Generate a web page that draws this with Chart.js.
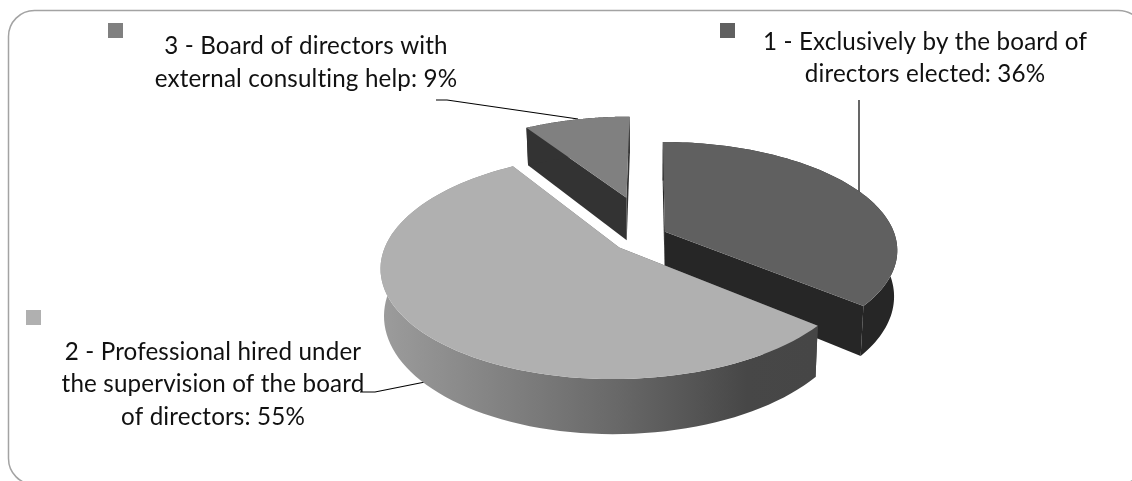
<!DOCTYPE html>
<html>
<head>
<meta charset="utf-8">
<title>Pie chart</title>
<script src="https://cdn.jsdelivr.net/npm/chart.js@4"></script>
<style>
    html, body { margin: 0; padding: 0; background: #fff; }
    canvas { display: block; }
</style>
</head>
<body>
<canvas id="pieChart" width="1132" height="481"></canvas>
<script>
const categories = [
    ['1 - Exclusively by the board of', 'directors elected'],
    ['2 - Professional hired under', 'the supervision of the board', 'of directors'],
    ['3 - Board of directors with', 'external consulting help']
];
const shares = [36, 55, 9];
const topColors = ['#606060', '#b0b0b0', '#808080'];
const sideColors = ['#262626', null, '#333333'];

// how far each slice is pulled out, as a share of the radius
const explode = [0.072, 0.175, 0.39];

// perspective of the disc: unit disc coordinates to page pixels
const view = { x0: 650, y0: 235, sx: 230, sy: 105.5, p: 0.164, depth: 45, squeeze: 0.987 };

const BASE_RADIUS = 100;

const annotations = [
    { swatch: [720, 23], center: 925, baselines: [50, 82], leader: [[859, 100], [859, 195]] },
    { swatch: [26, 310], center: 213, baselines: [360, 392, 425], leader: [[360, 392], [375, 392], [430, 381]] },
    { swatch: [108, 23], center: 306, baselines: [54, 87], leader: [[436, 100], [447, 100], [578, 119]] }
];

function project(x, y, below) {
    const w = 1 - view.p * y;
    let px = view.x0 + view.sx * x / w;
    let py = view.y0 + view.sy * y / w;
    if (below) {
        px = view.x0 + (px - view.x0) * view.squeeze;
        py += view.depth / w;
    }
    return [px, py];
}

function tracePath(ctx, points) {
    ctx.beginPath();
    points.forEach((p, i) => (i ? ctx.lineTo(p[0], p[1]) : ctx.moveTo(p[0], p[1])));
    ctx.closePath();
}

// Slice outline in unit disc coordinates, from the arc element's own angles
function sliceGeometry(arc) {
    const { startAngle, endAngle } = arc.getProps(['startAngle', 'endAngle'], true);
    const mid = (startAngle + endAngle) / 2;
    const shift = arc.options.offset / BASE_RADIUS;
    const ox = Math.cos(mid) * shift;
    const oy = Math.sin(mid) * shift;
    const rim = [];
    const steps = 90;
    for (let i = 0; i <= steps; i++) {
        const a = startAngle + (endAngle - startAngle) * i / steps;
        rim.push([ox + Math.cos(a), oy + Math.sin(a)]);
    }
    return { apex: [ox, oy], rim, depthOrder: Math.sin(mid) };
}

const pie3d = {
    id: 'pie3d',
    beforeDatasetDraw(chart, args) {
        const ctx = chart.ctx;
        const slices = args.meta.data.map((arc, i) => ({ i, geo: sliceGeometry(arc) }));
        slices.sort((a, b) => a.geo.depthOrder - b.geo.depthOrder);

        ctx.save();
        slices.forEach(({ i, geo }) => {
            const top = geo.rim.map(p => project(p[0], p[1], false));
            const bottom = geo.rim.map(p => project(p[0], p[1], true));
            const apexTop = project(geo.apex[0], geo.apex[1], false);
            const apexBottom = project(geo.apex[0], geo.apex[1], true);

            let side = sideColors[i];
            if (!side) {
                side = ctx.createLinearGradient(381, 0, 812, 0);
                side.addColorStop(0, '#9c9c9c');
                side.addColorStop(0.55, '#686868');
                side.addColorStop(0.85, '#474747');
                side.addColorStop(1, '#464646');
            }
            ctx.fillStyle = side;

            // cut faces, then the curved outer wall
            tracePath(ctx, [apexTop, top[0], bottom[0], apexBottom]);
            ctx.fill();
            tracePath(ctx, [apexTop, top[top.length - 1], bottom[bottom.length - 1], apexBottom]);
            ctx.fill();
            tracePath(ctx, top.concat(bottom.slice().reverse()));
            ctx.fill();

            ctx.fillStyle = topColors[i];
            tracePath(ctx, [apexTop].concat(top));
            ctx.fill();
        });
        ctx.restore();
        return false;
    },
    beforeDatasetsDraw(chart) {
        const ctx = chart.ctx;
        ctx.save();

        ctx.strokeStyle = '#a3a3a3';
        ctx.lineWidth = 1.5;
        ctx.beginPath();
        ctx.roundRect(8.5, 10.5, 1136, 474, 26);
        ctx.stroke();

        ctx.font = '24.2px Lato, sans-serif';
        ctx.letterSpacing = '0.15px';
        ctx.textAlign = 'center';
        ctx.textBaseline = 'alphabetic';
        annotations.forEach((note, i) => {
            ctx.fillStyle = topColors[i];
            ctx.fillRect(note.swatch[0], note.swatch[1], 15, 15);

            ctx.fillStyle = '#111';
            categories[i].forEach((line, j) => {
                const isLast = j === categories[i].length - 1;
                const text = isLast ? `${line}: ${shares[i]}%` : line;
                ctx.fillText(text, note.center, note.baselines[j]);
            });

            ctx.strokeStyle = '#000';
            ctx.lineWidth = 1.2;
            ctx.beginPath();
            note.leader.forEach((p, j) => (j ? ctx.lineTo(p[0], p[1]) : ctx.moveTo(p[0], p[1])));
            ctx.stroke();
        });
        ctx.restore();
    }
};

new Chart(document.getElementById('pieChart'), {
    type: 'pie',
    data: {
        labels: categories.map(c => c.join(' ')),
        datasets: [{
            data: shares,
            backgroundColor: topColors,
            borderWidth: 0,
            offset: explode.map(e => e * BASE_RADIUS)
        }]
    },
    options: {
        responsive: false,
        animation: false,
        events: [],
        plugins: {
            legend: { display: false },
            tooltip: { enabled: false }
        }
    },
    plugins: [pie3d]
});
</script>
</body>
</html>
